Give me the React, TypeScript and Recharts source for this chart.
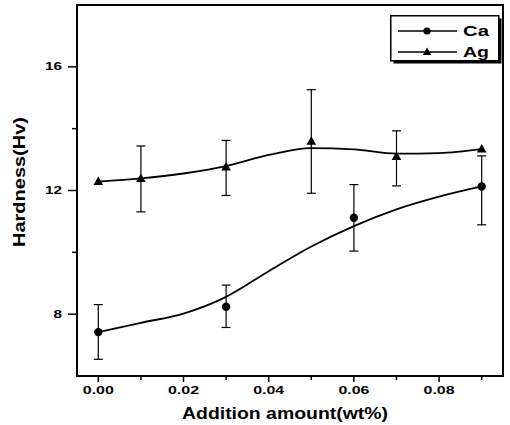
import React from 'react';
import {
  ComposedChart,
  Line,
  Scatter,
  XAxis,
  YAxis,
  ErrorBar,
  ReferenceArea,
  Legend,
  Label,
} from 'recharts';

const FONT = '"Liberation Sans", Arial, Helvetica, sans-serif';

const seriesNames = ['Ca', 'Ag'];

// measured points
const caX = [0, 0.03, 0.06, 0.09];
const caY = [7.42, 8.24, 11.12, 12.13];
const caErrLow = [0.88, 0.67, 1.08, 1.24];
const caErrHigh = [0.89, 0.7, 1.07, 0.99];

const agX = [0, 0.01, 0.03, 0.05, 0.07, 0.09];
const agY = [12.29, 12.39, 12.76, 13.59, 13.1, 13.34];
const agErrLow = [0, 1.08, 0.92, 1.68, 0.95, 0];
const agErrHigh = [0, 1.05, 0.86, 1.67, 0.83, 0];

// smoothed curves
const fitX = [0, 0.01, 0.02, 0.03, 0.04, 0.05, 0.06, 0.07, 0.08, 0.09];
const caFit = [7.42, 7.72, 8.02, 8.56, 9.39, 10.19, 10.85, 11.39, 11.8, 12.13];
const agFit = [12.29, 12.39, 12.55, 12.79, 13.15, 13.37, 13.33, 13.19, 13.21, 13.34];

const xMajorTicks = [0, 0.02, 0.04, 0.06, 0.08];
const xMinorTicks = [0.01, 0.03, 0.05, 0.07, 0.09];
const xTickLabels = ['0.00', '0.02', '0.04', '0.06', '0.08'];
const yMajorTicks = [8, 12, 16];
const yMinorTicks = [10, 14];
const yTickLabels = ['8', '12', '16'];
const xDomain: [number, number] = [-0.005, 0.095];
const yDomain: [number, number] = [6, 18];

const xTitle = 'Addition amount(wt%)';
const yTitle = 'Hardness(Hv)';

const caPoints = caX.map((x, i) => ({
  x,
  y: caY[i],
  err: caErrLow[i] || caErrHigh[i] ? [caErrLow[i], caErrHigh[i]] : null,
}));
const agPoints = agX.map((x, i) => ({
  x,
  y: agY[i],
  err: agErrLow[i] || agErrHigh[i] ? [agErrLow[i], agErrHigh[i]] : null,
}));
const caFitData = fitX.map((x, i) => ({ x, y: caFit[i] }));
const agFitData = fitX.map((x, i) => ({ x, y: agFit[i] }));

const near = (a: number, b: number) => Math.abs(a - b) < 1e-9;

const XTick = (props: any) => {
  const { x, y, payload } = props;
  const idx = xMajorTicks.findIndex((t) => near(t, payload.value));
  const major = idx >= 0;
  return (
    <g>
      <line x1={x} y1={y} x2={x} y2={y + (major ? 6 : 4)} stroke="#000" strokeWidth={1.5} />
      {major && (
        <text
          x={x}
          y={y + 18}
          textAnchor="middle"
          fontFamily={FONT}
          fontWeight="bold"
          fontSize={10.5}
          textLength={31}
          lengthAdjust="spacingAndGlyphs"
          fill="#000"
        >
          {xTickLabels[idx]}
        </text>
      )}
    </g>
  );
};

const YTick = (props: any) => {
  const { x, y, payload } = props;
  const idx = yMajorTicks.findIndex((t) => near(t, payload.value));
  const major = idx >= 0;
  const label = major ? yTickLabels[idx] : '';
  return (
    <g>
      <line x1={x - (major ? 9 : 5)} y1={y} x2={x} y2={y} stroke="#000" strokeWidth={1.5} />
      {major && (
        <text
          x={x - 15}
          y={y + 3.5}
          textAnchor="end"
          fontFamily={FONT}
          fontWeight="bold"
          fontSize={10.5}
          textLength={label.length * 8.5}
          lengthAdjust="spacingAndGlyphs"
          fill="#000"
        >
          {label}
        </text>
      )}
    </g>
  );
};

const CircleDot = (props: any) => {
  const { cx, cy } = props;
  if (cx == null || cy == null) return null;
  return <circle cx={cx} cy={cy} r={4.2} fill="#000" />;
};

const TriDot = (props: any) => {
  const { cx, cy } = props;
  if (cx == null || cy == null) return null;
  return (
    <polygon
      points={`${cx},${cy - 5} ${cx - 4.8},${cy + 3.5} ${cx + 4.8},${cy + 3.5}`}
      fill="#000"
    />
  );
};

const LegendBox = () => (
  <svg width={115} height={52} style={{ display: 'block' }}>
    <rect x={3.5} y={3.5} width={108} height={45} fill="#000" />
    <rect x={0.75} y={0.75} width={108} height={45} fill="#fff" stroke="#000" strokeWidth={1.5} />
    {seriesNames.map((name, i) => {
      const cy = 16 + i * 21;
      return (
        <g key={name}>
          <line x1={8} y1={cy} x2={67} y2={cy} stroke="#000" strokeWidth={1.5} />
          {i === 0 ? (
            <circle cx={37} cy={cy} r={3.6} fill="#000" />
          ) : (
            <polygon points={`37,${cy - 4.5} ${32.8},${cy + 3} ${41.2},${cy + 3}`} fill="#000" />
          )}
          <text
            x={73}
            y={cy + 5}
            fontFamily={FONT}
            fontWeight="bold"
            fontSize={14}
            textLength={26}
            lengthAdjust="spacingAndGlyphs"
            fill="#000"
          >
            {name}
          </text>
        </g>
      );
    })}
  </svg>
);

export default function App() {
  return (
    <div style={{ position: 'absolute', left: 0, top: 0, width: 510, height: 425, background: '#fff' }}>
      <ComposedChart
        width={510}
        height={425}
        margin={{ top: 5, right: 7, left: 0, bottom: 0 }}
        style={{ background: '#fff' }}
      >
        <XAxis
          dataKey="x"
          type="number"
          domain={xDomain}
          allowDataOverflow
          ticks={[...xMajorTicks, ...xMinorTicks].sort((a, b) => a - b)}
          interval={0}
          tick={<XTick />}
          tickLine={false}
          tickSize={0}
          tickMargin={0}
          axisLine={{ stroke: '#000', strokeWidth: 2 }}
          height={49}
        >
          <Label
            content={(p: any) => {
              const vb = p.viewBox || { x: 77, y: 376, width: 426 };
              return (
                <text
                  x={vb.x + vb.width / 2 - 5}
                  y={vb.y + 43}
                  textAnchor="middle"
                  fontFamily={FONT}
                  fontWeight="bold"
                  fontSize={16.5}
                  textLength={206}
                  lengthAdjust="spacingAndGlyphs"
                  fill="#000"
                >
                  {xTitle}
                </text>
              );
            }}
          />
        </XAxis>
        <YAxis
          type="number"
          domain={yDomain}
          allowDataOverflow
          ticks={[...yMajorTicks, ...yMinorTicks].sort((a, b) => a - b)}
          interval={0}
          tick={<YTick />}
          tickLine={false}
          tickSize={0}
          tickMargin={0}
          axisLine={{ stroke: '#000', strokeWidth: 2 }}
          width={77}
        >
          <Label
            content={(p: any) => {
              const vb = p.viewBox || { x: 0, y: 5, height: 371 };
              const cy = vb.y + vb.height / 2 - 8.5;
              return (
                <text
                  x={25}
                  y={cy}
                  transform={`rotate(-90 25 ${cy})`}
                  textAnchor="middle"
                  fontFamily={FONT}
                  fontWeight="bold"
                  fontSize={16.5}
                  textLength={130}
                  lengthAdjust="spacingAndGlyphs"
                  fill="#000"
                >
                  {yTitle}
                </text>
              );
            }}
          />
        </YAxis>
        <ReferenceArea
          x1={xDomain[0]}
          x2={xDomain[1]}
          y1={yDomain[0]}
          y2={yDomain[1]}
          fill="none"
          fillOpacity={0}
          stroke="#000"
          strokeWidth={2}
          ifOverflow="visible"
        />
        <Line
          data={caFitData}
          dataKey="y"
          type="monotone"
          stroke="#000"
          strokeWidth={1.8}
          dot={false}
          activeDot={false}
          isAnimationActive={false}
          legendType="none"
        />
        <Line
          data={agFitData}
          dataKey="y"
          type="monotone"
          stroke="#000"
          strokeWidth={1.8}
          dot={false}
          activeDot={false}
          isAnimationActive={false}
          legendType="none"
        />
        <Scatter data={caPoints} dataKey="y" name={seriesNames[0]} shape={<CircleDot />} isAnimationActive={false}>
          <ErrorBar dataKey="err" direction="y" width={4.5} stroke="#000" strokeWidth={1.2} />
        </Scatter>
        <Scatter data={agPoints} dataKey="y" name={seriesNames[1]} shape={<TriDot />} isAnimationActive={false}>
          <ErrorBar dataKey="err" direction="y" width={4.5} stroke="#000" strokeWidth={1.2} />
        </Scatter>
        <Legend
          layout="horizontal"
          verticalAlign="middle"
          align="center"
          wrapperStyle={{ left: 390, top: 15, width: 115, height: 52 }}
          content={() => <LegendBox />}
        />
      </ComposedChart>
    </div>
  );
}
